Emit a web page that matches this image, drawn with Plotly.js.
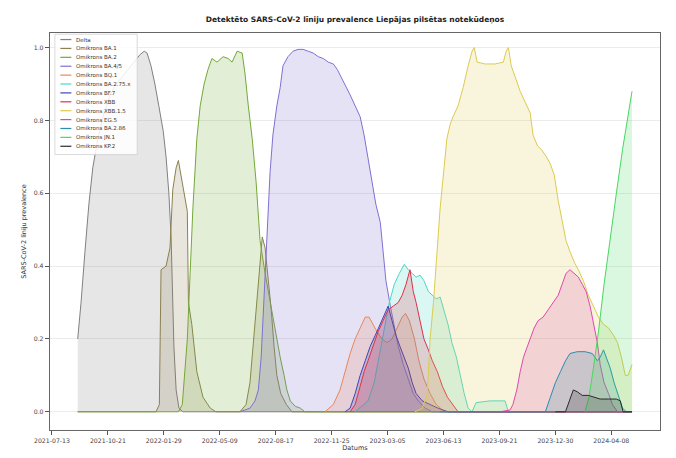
<!DOCTYPE html>
<html><head><meta charset="utf-8">
<script src="https://cdn.plot.ly/plotly-3.0.1.min.js"></script>
<style>html,body{margin:0;padding:0;background:#fff}</style>
</head><body><div id="chart" style="width:676px;height:458px"></div>
<script>
const chartTitle = 'Detektēto SARS-CoV-2 līniju prevalence Liepājas pilsētas notekūdeņos';
const xTitle = 'Datums';
const yTitle = 'SARS-CoV-2 līniju prevalence';
const xTickLabels = ['2021-07-13','2021-10-21','2022-01-29','2022-05-09','2022-08-17','2022-11-25','2023-03-05','2023-06-13','2023-09-21','2023-12-30','2024-04-08'];
const yTickValues = [0, 0.2, 0.4, 0.6, 0.8, 1.0];

const seriesNames = ['Delta','Omikrons BA.1','Omikrons BA.2','Omikrons BA.4/5','Omikrons BQ.1','Omikrons BA.2.75.x','Omikrons BF.7','Omikrons XBB','Omikrons XBB.1.5','Omikrons EG.5','Omikrons BA.2.86','Omikrons JN.1','Omikrons KP.2'];
const seriesColors = ['#808080','#8c8050','#74a838','#8070d0','#e8885a','#48d8c8','#3c46b4','#e0304a','#dccb50','#e048b0','#2a8cb0','#48d860','#2a2a2a'];

const dDelta = ['2021-08-28','2021-09-03','2021-09-10','2021-09-17','2021-09-24','2021-10-03','2021-10-14','2021-10-25','2021-11-05','2021-11-15','2021-11-26','2021-12-07','2021-12-17','2021-12-25','2021-12-30','2022-01-06','2022-01-13','2022-01-20','2022-01-28','2022-02-02','2022-02-07','2022-02-11','2022-02-13','2022-02-16','2022-02-20','2022-02-25','2022-03-04','2024-05-15'];
const vDelta = [0.2,0.3,0.44,0.57,0.67,0.75,0.82,0.87,0.9,0.92,0.94,0.96,0.98,0.99,0.985,0.95,0.9,0.84,0.77,0.7,0.6,0.48,0.34,0.18,0.06,0.01,0,0];

const dBA1 = ['2021-08-28','2022-01-15','2022-01-21','2022-01-24','2022-02-02','2022-02-09','2022-02-14','2022-02-20','2022-02-24','2022-03-02','2022-03-07','2022-03-12','2022-03-14','2022-03-20','2022-03-29','2022-04-09','2022-04-22','2022-05-02','2022-06-14','2022-06-25','2022-07-02','2022-07-09','2022-07-17','2022-07-24','2022-07-29','2022-08-03','2022-08-09','2022-08-14','2022-08-19','2022-08-26','2022-09-05','2022-09-15','2024-05-15'];
const vBA1 = [0,0,0.02,0.39,0.4,0.45,0.61,0.67,0.69,0.64,0.6,0.55,0.3,0.24,0.11,0.04,0.01,0,0,0.02,0.08,0.2,0.35,0.48,0.45,0.38,0.28,0.18,0.1,0.05,0.02,0,0];

const dBA2 = ['2021-08-28','2022-02-24','2022-03-03','2022-03-08','2022-03-12','2022-03-17','2022-03-22','2022-03-29','2022-04-04','2022-04-11','2022-04-18','2022-04-25','2022-05-04','2022-05-15','2022-05-24','2022-05-31','2022-06-09','2022-06-18','2022-06-23','2022-06-29','2022-07-06','2022-07-13','2022-07-20','2022-07-29','2022-08-07','2022-08-16','2022-08-25','2022-09-01','2022-09-06','2022-09-12','2022-09-21','2022-09-30','2022-10-08','2024-05-15'];
const vBA2 = [0,0,0.02,0.12,0.2,0.38,0.56,0.75,0.84,0.9,0.94,0.97,0.96,0.975,0.97,0.96,0.99,0.985,0.93,0.84,0.75,0.63,0.47,0.38,0.3,0.22,0.15,0.1,0.06,0.03,0.015,0.01,0,0];

const dBA45 = ['2022-06-14','2022-07-02','2022-07-11','2022-07-17','2022-07-22','2022-07-27','2022-08-02','2022-08-07','2022-08-12','2022-08-19','2022-08-25','2022-08-30','2022-09-08','2022-09-17','2022-09-26','2022-10-05','2022-10-14','2022-10-23','2022-11-01','2022-11-10','2022-11-19','2022-11-28','2022-12-05','2022-12-12','2022-12-19','2022-12-28','2023-01-06','2023-01-15','2023-01-22','2023-01-29','2023-02-05','2023-02-12','2023-02-20','2023-02-25','2023-03-02','2023-03-10','2023-03-17','2023-03-24','2023-04-02','2023-04-11','2023-04-20','2023-04-29','2023-05-11','2023-05-24','2024-05-15'];
const vBA45 = [0,0.01,0.03,0.06,0.15,0.3,0.5,0.66,0.76,0.84,0.89,0.95,0.975,0.99,0.995,0.995,0.99,0.985,0.975,0.97,0.96,0.955,0.94,0.92,0.9,0.87,0.84,0.81,0.76,0.7,0.63,0.57,0.52,0.44,0.36,0.29,0.23,0.18,0.13,0.09,0.05,0.03,0.01,0,0];

const dBQ1 = ['2022-11-13','2022-11-28','2022-12-10','2022-12-19','2022-12-28','2023-01-06','2023-01-15','2023-01-24','2023-01-31','2023-02-07','2023-02-14','2023-02-23','2023-03-04','2023-03-13','2023-03-22','2023-03-31','2023-04-06','2023-04-13','2023-04-22','2023-04-30','2023-05-09','2023-05-20','2023-05-31','2023-06-11','2023-06-21','2024-05-15'];
const vBQ1 = [0,0.02,0.06,0.11,0.16,0.2,0.23,0.26,0.26,0.24,0.22,0.2,0.19,0.2,0.23,0.26,0.27,0.25,0.2,0.14,0.09,0.05,0.02,0.005,0,0];

const dBA275 = ['2023-01-06','2023-01-29','2023-02-09','2023-02-18','2023-02-27','2023-03-08','2023-03-17','2023-03-26','2023-04-04','2023-04-11','2023-04-18','2023-04-25','2023-05-02','2023-05-09','2023-05-17','2023-05-24','2023-05-31','2023-06-07','2023-06-14','2023-06-21','2023-06-28','2023-07-06','2023-07-13','2023-07-20','2023-07-27','2023-08-03','2023-08-10','2023-09-04','2023-10-01','2023-10-07','2024-05-15'];
const vBA275 = [0,0.03,0.08,0.15,0.22,0.3,0.35,0.38,0.405,0.39,0.38,0.37,0.375,0.36,0.33,0.32,0.31,0.315,0.28,0.24,0.19,0.15,0.1,0.05,0.01,0,0.025,0.03,0.03,0,0];

const dBF7 = ['2022-12-19','2022-12-28','2023-01-06','2023-01-15','2023-01-24','2023-02-02','2023-02-11','2023-02-20','2023-02-28','2023-03-06','2023-03-13','2023-03-20','2023-03-27','2023-04-04','2023-04-11','2023-04-18','2023-04-25','2023-05-06','2023-05-20','2023-06-03','2023-06-21','2024-05-15'];
const vBF7 = [0,0.01,0.05,0.1,0.14,0.18,0.21,0.24,0.27,0.29,0.25,0.21,0.18,0.15,0.12,0.08,0.05,0.03,0.02,0.01,0,0];

const dXBB = ['2022-12-28','2023-01-06','2023-01-15','2023-01-22','2023-01-29','2023-02-07','2023-02-16','2023-02-25','2023-03-06','2023-03-15','2023-03-24','2023-03-31','2023-04-07','2023-04-14','2023-04-20','2023-04-25','2023-05-02','2023-05-09','2023-05-17','2023-05-24','2023-06-02','2023-06-11','2023-06-20','2023-06-29','2023-07-09','2024-05-15'];
const vXBB = [0,0.02,0.07,0.11,0.14,0.18,0.22,0.25,0.28,0.29,0.3,0.32,0.35,0.39,0.33,0.3,0.25,0.2,0.17,0.14,0.11,0.07,0.04,0.02,0,0];

const dXBB15 = ['2023-04-23','2023-05-06','2023-05-15','2023-05-20','2023-05-26','2023-05-31','2023-06-07','2023-06-14','2023-06-19','2023-06-25','2023-06-30','2023-07-09','2023-07-18','2023-07-27','2023-08-03','2023-08-07','2023-08-12','2023-08-26','2023-09-13','2023-09-28','2023-10-03','2023-10-07','2023-10-12','2023-10-19','2023-10-28','2023-11-06','2023-11-15','2023-11-20','2023-11-28','2023-12-05','2023-12-14','2023-12-21','2023-12-28','2024-01-04','2024-01-11','2024-01-18','2024-01-25','2024-02-02','2024-02-09','2024-02-18','2024-02-27','2024-03-07','2024-03-16','2024-03-25','2024-04-03','2024-04-12','2024-04-19','2024-04-26','2024-05-03','2024-05-08','2024-05-15'];
const vXBB15 = [0,0.01,0.05,0.2,0.3,0.42,0.56,0.67,0.75,0.79,0.81,0.84,0.89,0.95,0.99,1.0,0.96,0.955,0.955,0.96,0.99,1.0,0.95,0.92,0.88,0.85,0.82,0.76,0.73,0.72,0.7,0.68,0.65,0.58,0.52,0.47,0.44,0.41,0.39,0.36,0.32,0.29,0.26,0.24,0.23,0.21,0.19,0.15,0.1,0.1,0.13];

const dEG5 = ['2023-09-22','2023-10-10','2023-10-15','2023-10-22','2023-10-28','2023-11-03','2023-11-10','2023-11-15','2023-11-22','2023-11-29','2023-12-08','2023-12-17','2023-12-26','2024-01-04','2024-01-11','2024-01-18','2024-01-25','2024-02-02','2024-02-09','2024-02-16','2024-02-23','2024-03-01','2024-03-08','2024-03-14','2024-03-19','2024-03-26','2024-04-03','2024-04-10','2024-04-19','2024-05-15'];
const vEG5 = [0,0.005,0.02,0.06,0.11,0.15,0.18,0.2,0.23,0.25,0.26,0.28,0.3,0.32,0.35,0.38,0.39,0.38,0.37,0.35,0.33,0.29,0.24,0.19,0.13,0.08,0.05,0.02,0,0];

const dBA286 = ['2023-06-07','2023-12-12','2023-12-21','2023-12-30','2024-01-08','2024-01-17','2024-01-25','2024-02-07','2024-02-21','2024-03-05','2024-03-14','2024-03-19','2024-03-25','2024-03-30','2024-04-06','2024-04-13','2024-04-20','2024-04-28','2024-05-05','2024-05-15'];
const vBA286 = [0,0,0.04,0.08,0.11,0.14,0.16,0.165,0.165,0.16,0.14,0.15,0.17,0.15,0.12,0.08,0.05,0.01,0,0];

const dJN1 = ['2024-02-21','2024-02-28','2024-03-07','2024-03-16','2024-03-26','2024-04-06','2024-04-17','2024-04-28','2024-05-07','2024-05-15'];
const vJN1 = [0,0.04,0.12,0.22,0.35,0.48,0.6,0.72,0.8,0.88];

const dKP2 = ['2023-12-30','2024-01-17','2024-01-24','2024-01-31','2024-02-07','2024-02-16','2024-02-27','2024-03-08','2024-03-19','2024-04-03','2024-04-17','2024-04-24','2024-04-29','2024-05-15'];
const vKP2 = [0,0,0.03,0.06,0.055,0.045,0.045,0.04,0.035,0.035,0.035,0.03,0,0];

const seriesDates = [dDelta,dBA1,dBA2,dBA45,dBQ1,dBA275,dBF7,dXBB,dXBB15,dEG5,dBA286,dJN1,dKP2];
const seriesValues = [vDelta,vBA1,vBA2,vBA45,vBQ1,vBA275,vBF7,vXBB,vXBB15,vEG5,vBA286,vJN1,vKP2];

function rgba(hex, a) {
  const n = parseInt(hex.slice(1), 16);
  return 'rgba(' + ((n >> 16) & 255) + ',' + ((n >> 8) & 255) + ',' + (n & 255) + ',' + a + ')';
}

const traces = seriesNames.map((name, i) => ({
  type: 'scatter', mode: 'lines', name: name,
  x: seriesDates[i], y: seriesValues[i],
  line: {color: seriesColors[i], width: 1},
  fill: 'tozeroy', fillcolor: rgba(seriesColors[i], 0.2),
  showlegend: false, hoverinfo: 'skip'
}));

// custom legend (compact, like the reference)
const shapes = [];
const annotations = [];
const legX0 = 0.008, legX1 = 0.143, legTop = 0.997, legStep = 0.0224;
shapes.push({type: 'rect', xref: 'paper', yref: 'paper', x0: legX0, x1: legX1,
  y0: legTop - legStep * seriesNames.length - 0.012, y1: legTop,
  line: {color: '#d0d0d0', width: 0.8}, fillcolor: 'rgba(255,255,255,0.85)', layer: 'above'});
seriesNames.forEach((name, i) => {
  const yy = legTop - 0.0135 - legStep * i;
  shapes.push({type: 'line', xref: 'paper', yref: 'paper', x0: 0.017, x1: 0.035, y0: yy, y1: yy,
    line: {color: seriesColors[i], width: 1.2}, layer: 'above'});
  annotations.push({xref: 'paper', yref: 'paper', x: 0.039, y: yy, text: name, showarrow: false,
    xanchor: 'left', yanchor: 'middle', font: {family: 'DejaVu Sans', size: 5.5, color: '#333'}});
});

const layout = {
  width: 676, height: 458,
  margin: {l: 50, r: 16, t: 33, b: 28},
  paper_bgcolor: '#ffffff', plot_bgcolor: '#ffffff',
  font: {family: 'DejaVu Sans', color: '#333'},
  title: {text: '<b>' + chartTitle + '</b>', font: {family: 'DejaVu Sans', size: 7.5, color: '#222'},
    xref: 'paper', x: 0.5, xanchor: 'center', y: 0.958, yanchor: 'middle'},
  xaxis: {type: 'date', range: ['2021-07-09 12:00', '2024-07-04'],
    tickvals: xTickLabels, ticktext: xTickLabels,
    ticks: 'outside', ticklen: 4, tickcolor: '#555', tickwidth: 1,
    showline: true, linecolor: '#666', linewidth: 1.2, mirror: true,
    showgrid: false, zeroline: false,
    tickfont: {family: 'DejaVu Sans', size: 6.2, color: '#444'},
    title: {text: xTitle, font: {family: 'DejaVu Sans', size: 6.5, color: '#333'}, standoff: 2},
    automargin: false},
  yaxis: {range: [-0.05, 1.04], tickvals: yTickValues, ticktext: yTickValues.map(v => v.toFixed(1)),
    ticks: 'outside', ticklen: 4, tickcolor: '#555', tickwidth: 1,
    showline: true, linecolor: '#666', linewidth: 1.2, mirror: true,
    showgrid: true, gridcolor: '#ececec', gridwidth: 1, zeroline: false,
    tickfont: {family: 'DejaVu Sans', size: 6.2, color: '#444'},
    title: {text: yTitle, font: {family: 'DejaVu Sans', size: 6.5, color: '#333'}, standoff: 6},
    automargin: false},
  shapes: shapes,
  annotations: annotations,
  showlegend: false
};

Plotly.newPlot('chart', traces, layout, {displayModeBar: false, staticPlot: true});
</script>
</body></html>
